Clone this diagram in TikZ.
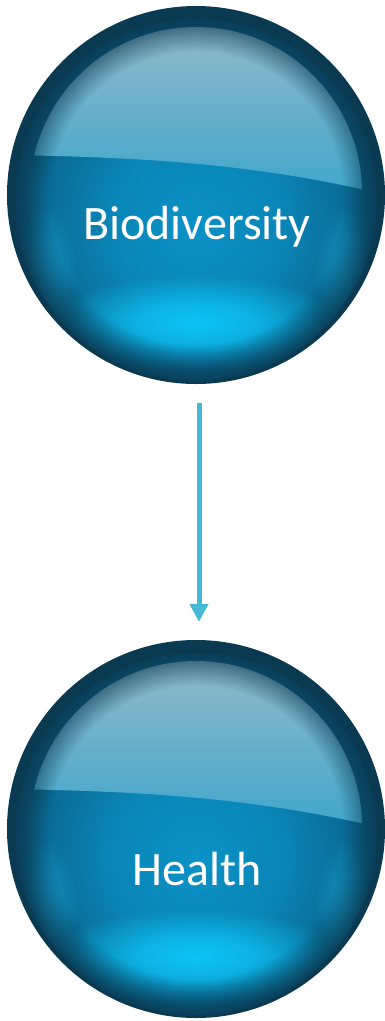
\documentclass[tikz,border=0pt]{standalone}
\usepackage{fontspec}
\setmainfont{Carlito}
\usetikzlibrary{arrows.meta,fadings}
\definecolor{edgecol}{HTML}{093A52}
\definecolor{bodyA}{HTML}{0B92C6}
\definecolor{bodyB}{HTML}{0A85B7}
\definecolor{bodyC}{HTML}{0A6B95}
\definecolor{bodyD}{HTML}{0A5474}
\definecolor{glowcol}{HTML}{0EC4F6}
\definecolor{sidecol}{HTML}{1BA6D6}
\definecolor{hlTop}{HTML}{94BACA}
\definecolor{hlBot}{HTML}{3EA6CC}
\definecolor{arrowcol}{HTML}{45B9D6}
\pgfdeclareradialshading{spherebody}{\pgfpoint{0bp}{-4bp}}{color(0bp)=(bodyA); color(12bp)=(bodyB); color(21bp)=(bodyC); color(25bp)=(bodyD); color(50bp)=(bodyD)}
\pgfdeclareradialshading{softfadeshade}{\pgfpointorigin}{color(0bp)=(pgftransparent!0); color(10bp)=(pgftransparent!25); color(25bp)=(pgftransparent!100); color(50bp)=(pgftransparent!100)}
\pgfdeclarefading{softfade}{\pgfuseshading{softfadeshade}}
\pgfdeclareradialshading{rimfadeshade}{\pgfpointorigin}{color(0bp)=(pgftransparent!100); color(20bp)=(pgftransparent!100); color(24bp)=(pgftransparent!30); color(25bp)=(pgftransparent!10); color(50bp)=(pgftransparent!10)}
\pgfdeclarefading{rimfade}{\pgfuseshading{rimfadeshade}}
\newcommand\glossball[2]{%
\begin{scope}[shift={(#1,#2)}]
 \fill[edgecol] (0,0) circle (189pt);
 \shade[shading=spherebody] (0,5) circle (181pt);
 \begin{scope}
  \clip (0,5) circle (181pt);
  \fill[glowcol, path fading=softfade] (0,128) ellipse (150pt and 48pt);
  \fill[sidecol, opacity=0.6, path fading=softfade] (-150,80) ellipse (32pt and 70pt);
  \fill[sidecol, opacity=0.6, path fading=softfade] (150,80) ellipse (32pt and 70pt);
 \end{scope}
 \begin{scope}
  \clip (0,-2) circle (166pt);
  \shade[top color=hlTop, bottom color=hlBot] (-190,-40) .. controls (-60,-38) and (60,-32) .. (190,0) -- (190,-170) -- (-190,-170) -- cycle;
 \end{scope}
 \fill[edgecol, path fading=rimfade] (0,4) circle (183pt);
\end{scope}}
\tikzset{
  ball/.style={circle, minimum size=378pt, inner sep=0pt},
  balltext/.style={text=white, anchor=base, font=\fontsize{48}{56}\selectfont, inner sep=0pt},
  link/.style={draw=arrowcol, line width=5pt, -{Triangle[width=18pt,length=18pt]}}
}
\begin{document}
\begin{tikzpicture}[x=1pt,y=-1pt]
\useasboundingbox (0,0) rectangle (385,1021);
\fill[white] (0,0) rectangle (385,1021);
\glossball{196}{195}
\glossball{196}{829}
\node[ball] (bio) at (196,195) {};
\node[ball] (hea) at (196,829) {};
\node[balltext] (biot) at (197,239) {Biodiversity};
\node[balltext] (heat) at (197,885) {Health};
\draw[link, shorten <=19pt, shorten >=18pt] ([xshift=3pt]bio.south) -- ([xshift=3pt]hea.north);
\end{tikzpicture}
\end{document}
